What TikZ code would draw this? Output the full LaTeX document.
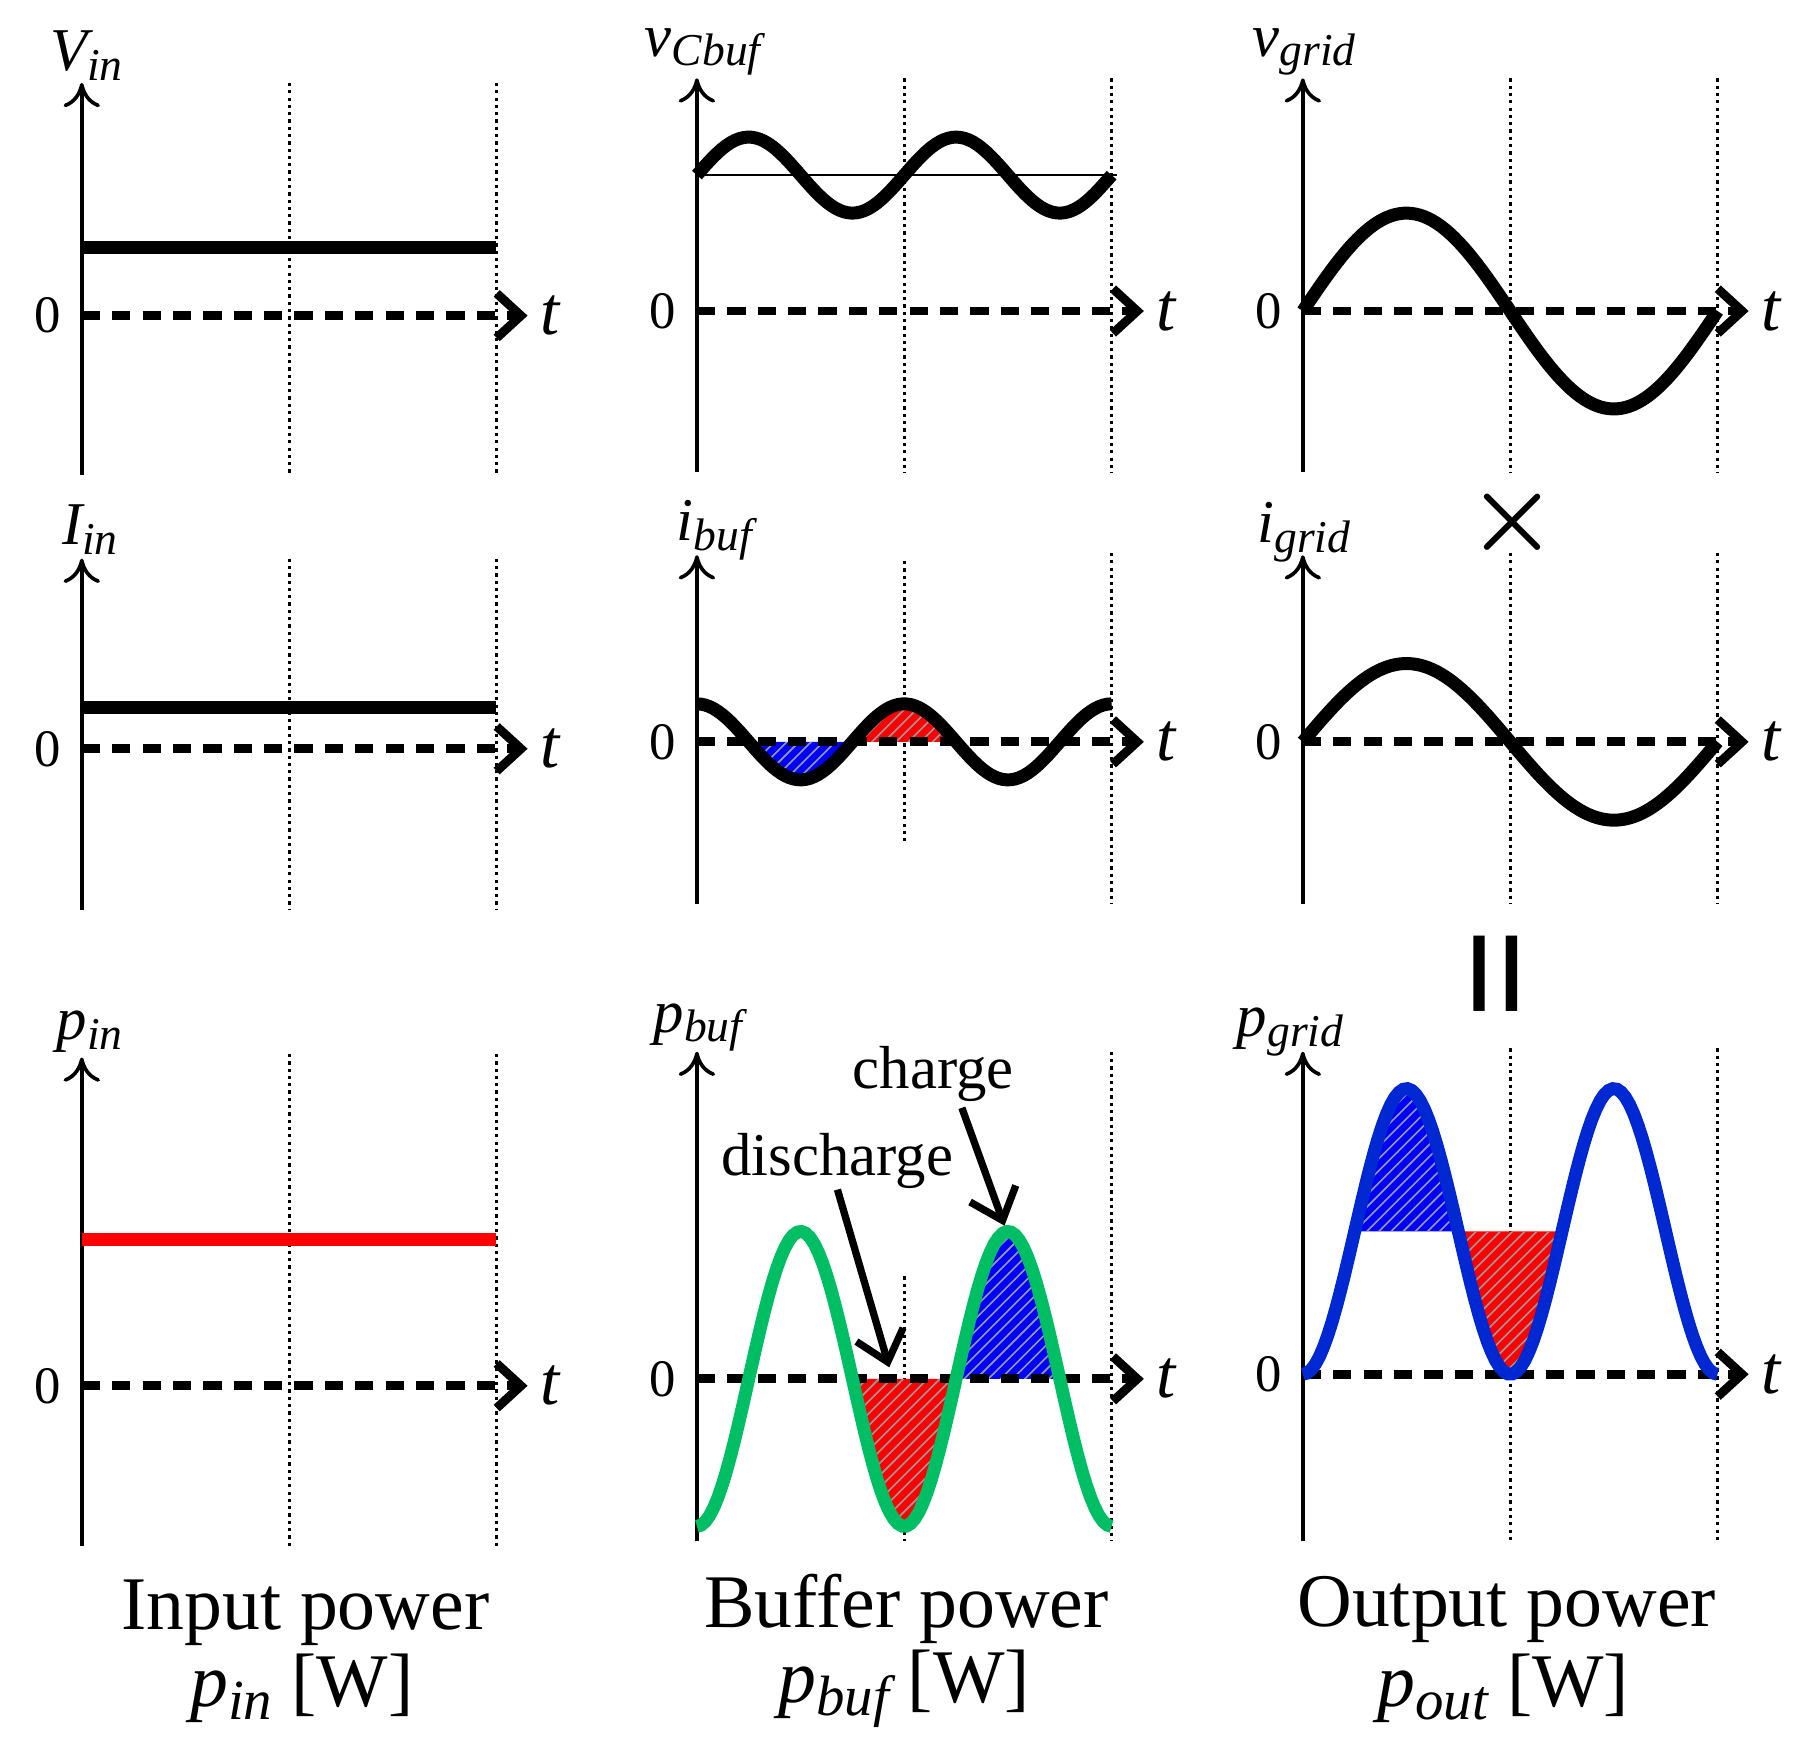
\documentclass[tikz,border=0pt]{standalone}
\usepackage{fontspec}
\setmainfont{Liberation Serif}
\usetikzlibrary{patterns,arrows.meta}
\newcommand{\sub}[1]{\raisebox{-0.35ex}{\scalebox{0.75}{#1}}}
\newcommand{\axlbl}[2]{{\itshape #1\sub{#2}}}
\definecolor{bufgreen}{RGB}{0,190,100}
\definecolor{gridblue}{RGB}{0,40,210}
\tikzset{
  axis/.style={->, >={To[length=6pt,width=9pt,open]}, line width=0.9pt},
  zeroline/.style={->, >={Straight Barb[length=6pt,width=11pt,line width=2.2pt]}, line width=2.2pt, dash pattern=on 4.5pt off 3pt},
  grid/.style={densely dotted, line width=0.8pt},
  wave/.style={line width=3.2pt},
  lbl/.style={font=\fontsize{15}{15}\selectfont, inner sep=0pt},
  zlbl/.style={font=\fontsize{13}{13}\selectfont, inner sep=0pt},
  title/.style={font=\fontsize{18.7}{21}\selectfont, inner sep=0pt},
  hatch/.style={pattern=north east lines, pattern color=gray!80},
}
\begin{document}
\begin{tikzpicture}[x=0.01cm, y=-0.01cm]
\useasboundingbox (0,0) rectangle (1560,1517);

% axes: name, x, top, bottom, zero, arrow end
\newcommand{\axes}[6]{%
  \coordinate (#1top) at (#2,#3);
  \coordinate (#1bot) at (#2,#4);
  \coordinate (#1zero) at (#2,#5);
  \coordinate (#1end) at (#6,#5);
  \draw[axis] (#1bot) -- (#1top);
  \draw[zeroline] (#1zero) -- (#1end);
  \node[zlbl, left=5pt] at (#1zero) {0};
  \node[font=\fontsize{17}{17}\selectfont\itshape, inner sep=0pt, right=3pt] at (#1end) {t};
}

% grid lines
\foreach \gx in {251,431}{\draw[grid] (\gx,72) -- (\gx,412); \draw[grid] (\gx,485) -- (\gx,790); \draw[grid] (\gx,915) -- (\gx,1342);}
\draw[grid] (785,68) -- (785,410); \draw[grid] (965,68) -- (965,410);
\draw[grid] (785,487) -- (785,732); \draw[grid] (965,480) -- (965,785);
\draw[grid] (785,1108) -- (785,1338); \draw[grid] (965,913) -- (965,1338);
\foreach \gx in {1311,1491}{\draw[grid] (\gx,68) -- (\gx,410); \draw[grid] (\gx,480) -- (\gx,785); \draw[grid] (\gx,910) -- (\gx,1338);}

% fills
\fill[blue] plot[domain=650:740, samples=40] (\x,{644-33*cos(2*(\x-605))}) -- cycle;
\fill[hatch] plot[domain=650:740, samples=40] (\x,{644-33*cos(2*(\x-605))}) -- cycle;
\fill[red] plot[domain=740:830, samples=40] (\x,{644-33*cos(2*(\x-605))}) -- cycle;
\fill[hatch] plot[domain=740:830, samples=40] (\x,{644-33*cos(2*(\x-605))}) -- cycle;
\fill[red] plot[domain=740:830, samples=40] (\x,{1197+128*cos(2*(\x-605))}) -- cycle;
\fill[hatch] plot[domain=740:830, samples=40] (\x,{1197+128*cos(2*(\x-605))}) -- cycle;
\fill[blue] plot[domain=830:920, samples=40] (\x,{1197+128*cos(2*(\x-605))}) -- cycle;
\fill[hatch] plot[domain=830:920, samples=40] (\x,{1197+128*cos(2*(\x-605))}) -- cycle;
\fill[blue] plot[domain=1176:1266, samples=40] (\x,{1193-248*sin(\x-1131)^2}) -- cycle;
\fill[hatch] plot[domain=1176:1266, samples=40] (\x,{1193-248*sin(\x-1131)^2}) -- cycle;
\fill[red] plot[domain=1266:1356, samples=40] (\x,{1193-248*sin(\x-1131)^2}) -- cycle;
\fill[hatch] plot[domain=1266:1356, samples=40] (\x,{1193-248*sin(\x-1131)^2}) -- cycle;

% axes
\axes{va}{71}{72}{412}{274}{458}
\axes{vb}{605}{68}{410}{270}{993}
\axes{vc}{1131}{68}{410}{270}{1518}
\axes{ia}{71}{485}{790}{650}{458}
\axes{ib}{605}{482}{785}{644}{993}
\axes{ic}{1131}{482}{785}{644}{1518}
\axes{pa}{71}{918}{1342}{1203}{458}
\axes{pb}{605}{913}{1338}{1197}{993}
\axes{pc}{1131}{913}{1338}{1193}{1518}

% waveforms
\draw[wave] (71,215) -- (431,215);
\draw[thin] (605,152) -- (970,152);
\draw[wave] plot[domain=605:965, samples=100] (\x,{152-33*sin(2*(\x-605))});
\draw[wave] plot[domain=1131:1491, samples=100] (\x,{270-85*sin(\x-1131)});
\draw[wave] (71,614) -- (431,614);
\draw[wave] plot[domain=605:965, samples=100] (\x,{644-33*cos(2*(\x-605))});
\draw[wave] plot[domain=1131:1491, samples=100] (\x,{644-68*sin(\x-1131)});
\draw[wave, red] (71,1076) -- (431,1076);
\draw[wave, bufgreen] plot[domain=605:965, samples=100] (\x,{1197+128*cos(2*(\x-605))});
\draw[wave, gridblue] plot[domain=1131:1491, samples=100] (\x,{1193-248*sin(\x-1131)^2});

% axis labels
\node[lbl] at (75,48) {\axlbl{V}{in}};
\node[lbl] at (610,45) {\axlbl{v}{Cbuf}};
\node[lbl] at (1132,45) {\axlbl{v}{grid}};
\node[lbl] at (78,460) {\axlbl{I}{in}};
\node[lbl] at (620,460) {\axlbl{i}{buf}};
\node[lbl] at (1132,462) {\axlbl{i}{grid}};
\node[lbl] at (78,896) {\axlbl{p}{in}};
\node[lbl] at (606,892) {\axlbl{p}{buf}};
\node[lbl] at (1120,896) {\axlbl{p}{grid}};

% operators
\node[font=\fontsize{36}{36}\selectfont\boldmath] (times) at (1313,453) {$\times$};
\node[font=\fontsize{40}{40}\selectfont\bfseries, rotate=90] (equals) at (1312,845) {=};

% annotations
\node[lbl] (charge) at (810,932) {charge};
\node[lbl] (discharge) at (727,1008) {discharge};
\coordinate (chargetip) at (872,1064);
\coordinate (dischargetip) at (772,1187);
\draw[-{Straight Barb[length=7pt,width=12pt]}, line width=1.8pt] (charge.south) ++(25,5) -- (chargetip);
\draw[-{Straight Barb[length=7pt,width=12pt]}, line width=1.8pt] (discharge.south) -- (dischargetip);

% titles
\node[title] (ta) at (265,1400) {Input power};
\node[title] (tb) at (787,1397) {Buffer power};
\node[title] (tc) at (1308,1397) {Output power};
\node[title] at (262,1466) {\axlbl{p}{in} [W]};
\node[title] at (785,1466) {\axlbl{p}{buf} [W]};
\node[title] at (1305,1466) {\axlbl{p}{out} [W]};
\end{tikzpicture}
\end{document}
